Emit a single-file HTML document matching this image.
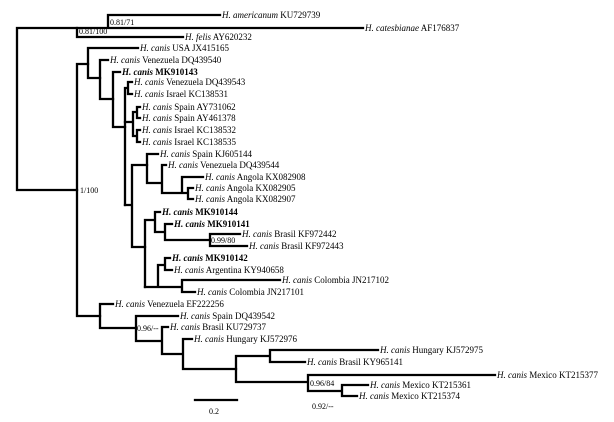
<!DOCTYPE html>
<html><head><meta charset="utf-8"><style>
html,body{margin:0;padding:0;background:#fff;}
svg{display:block;}
text{font-family:"Liberation Serif",serif;font-size:9px;fill:#000;}
.i{font-style:italic;}
.b{font-weight:bold;}
</style></head><body>
<svg width="614" height="422" viewBox="0 0 614 422">
<g stroke="#000" stroke-width="2.3" fill="none" stroke-linecap="square">
<path d="M17 28V190M17 28H77M17 190H77"/>
<path d="M77 28V37M77 37H183M77 28H363M108 15V28M108 15H220"/>
<path d="M77 64V316M77 64H88M77 316H100"/>
<path d="M88 48V78M88 48H138M88 78H100"/>
<path d="M100 60V99M100 60H108M100 99H113"/>
<path d="M113 72V127M113 72H120M113 127H125"/>
<path d="M125 88V205M125 88H128M128 82V94M128 82H132M128 94H132"/>
<path d="M125 122H133M133 112V136M133 112H137M133 136H137M137 107V118M137 107H140M137 118H140M137 130V142M137 130H140M137 142H140"/>
<path d="M125 205H132M132 165V247M132 165H147M132 247H145"/>
<path d="M147 154V183M147 154H158M147 183H162M162 165V193M162 165H166M162 193H182M182 177V193M182 177H203M182 193H188M188 188V199M188 188H193M188 199H193"/>
<path d="M145 220V287M145 220H155M155 212V232M155 212H160M155 232H165M165 224V240M165 224H172M165 240H210M210 234V246M210 234H240M210 246H247"/>
<path d="M145 287H158M158 265V287M158 265H165M165 258V270M165 258H170M165 270H172M158 287H182M182 280V292M182 280H280M182 292H195"/>
<path d="M100 304V328M100 304H113M100 328H136M136 316V341M136 316H178M136 341H162M162 327V354M162 327H168M162 354H183M183 339V369M183 339H192M183 369H236"/>
<path d="M236 356V382M236 356H270M270 350V362M270 350H378M270 362H305M236 382H308M308 375V391M308 375H495M308 391H342M342 385V396M342 385H368M342 396H357"/>
<path d="M195 400H237"/>
</g>
<text x="110" y="25" style="font-size:8px">0.81/71</text>
<text x="79" y="34" style="font-size:8px">0.81/100</text>
<text x="80" y="193" style="font-size:8px">1/100</text>
<text x="211" y="243" style="font-size:8px">0.99/80</text>
<text x="137" y="331" style="font-size:8px">0.96/--</text>
<text x="310" y="386" style="font-size:8px">0.96/84</text>
<text x="312" y="409" style="font-size:8px">0.92/--</text>
<text x="209" y="414" style="font-size:8px">0.2</text>
<text x="222" y="18"><tspan class="i">H. americanum</tspan> KU729739</text>
<text x="365" y="31"><tspan class="i">H. catesbianae</tspan> AF176837</text>
<text x="185" y="40"><tspan class="i">H. felis</tspan> AY620232</text>
<text x="140" y="51"><tspan class="i">H. canis</tspan> USA JX415165</text>
<text x="110" y="63"><tspan class="i">H. canis</tspan> Venezuela DQ439540</text>
<text x="122" y="75" class="b"><tspan class="i">H. canis</tspan> MK910143</text>
<text x="134" y="85"><tspan class="i">H. canis</tspan> Venezuela DQ439543</text>
<text x="134" y="97"><tspan class="i">H. canis</tspan> Israel KC138531</text>
<text x="142" y="110"><tspan class="i">H. canis</tspan> Spain AY731062</text>
<text x="142" y="121"><tspan class="i">H. canis</tspan> Spain AY461378</text>
<text x="142" y="133"><tspan class="i">H. canis</tspan> Israel KC138532</text>
<text x="142" y="145"><tspan class="i">H. canis</tspan> Israel KC138535</text>
<text x="160" y="157"><tspan class="i">H. canis</tspan> Spain KJ605144</text>
<text x="168" y="168"><tspan class="i">H. canis</tspan> Venezuela DQ439544</text>
<text x="205" y="180"><tspan class="i">H. canis</tspan> Angola KX082908</text>
<text x="195" y="191"><tspan class="i">H. canis</tspan> Angola KX082905</text>
<text x="195" y="202"><tspan class="i">H. canis</tspan> Angola KX082907</text>
<text x="162" y="215" class="b"><tspan class="i">H. canis</tspan> MK910144</text>
<text x="174" y="227" class="b"><tspan class="i">H. canis</tspan> MK910141</text>
<text x="242" y="237"><tspan class="i">H. canis</tspan> Brasil KF972442</text>
<text x="249" y="249"><tspan class="i">H. canis</tspan> Brasil KF972443</text>
<text x="172" y="261" class="b"><tspan class="i">H. canis</tspan> MK910142</text>
<text x="174" y="273"><tspan class="i">H. canis</tspan> Argentina KY940658</text>
<text x="282" y="283"><tspan class="i">H. canis</tspan> Colombia JN217102</text>
<text x="197" y="295"><tspan class="i">H. canis</tspan> Colombia JN217101</text>
<text x="115" y="307"><tspan class="i">H. canis</tspan> Venezuela EF222256</text>
<text x="180" y="319"><tspan class="i">H. canis</tspan> Spain DQ439542</text>
<text x="170" y="330"><tspan class="i">H. canis</tspan> Brasil KU729737</text>
<text x="194" y="342"><tspan class="i">H. canis</tspan> Hungary KJ572976</text>
<text x="380" y="353"><tspan class="i">H. canis</tspan> Hungary KJ572975</text>
<text x="307" y="365"><tspan class="i">H. canis</tspan> Brasil KY965141</text>
<text x="497" y="378"><tspan class="i">H. canis</tspan> Mexico KT215377</text>
<text x="370" y="388"><tspan class="i">H. canis</tspan> Mexico KT215361</text>
<text x="359" y="399"><tspan class="i">H. canis</tspan> Mexico KT215374</text>
</svg>
</body></html>
